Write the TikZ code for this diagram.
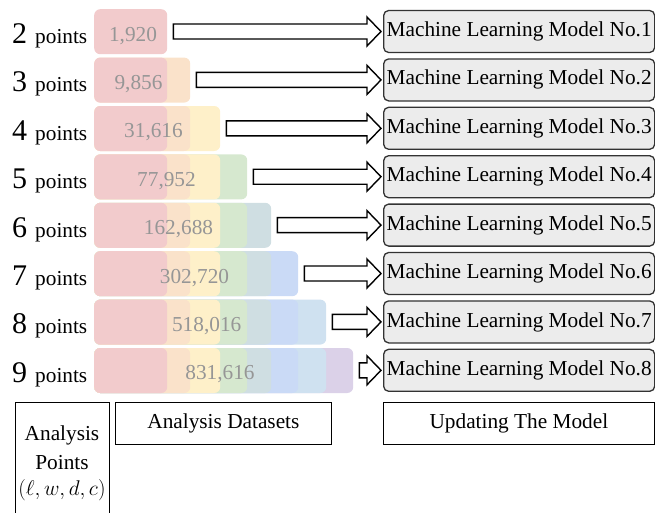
\RequirePackage{fix-cm}
\documentclass[tikz,border=0pt]{standalone}
\usepackage{fontspec}
\setmainfont{Liberation Serif}
\usetikzlibrary{calc}
\definecolor{b1}{RGB}{242,203,204}
\definecolor{b2}{RGB}{250,226,202}
\definecolor{b3}{RGB}{254,240,201}
\definecolor{b4}{RGB}{214,232,207}
\definecolor{b5}{RGB}{207,222,226}
\definecolor{b6}{RGB}{202,218,246}
\definecolor{b7}{RGB}{207,225,240}
\definecolor{b8}{RGB}{219,209,232}
\definecolor{modelfill}{RGB}{236,236,236}
\definecolor{numgray}{RGB}{150,150,150}
\begin{document}
\begin{tikzpicture}[x=1pt,y=-1pt,
  txt/.style={font=\fontsize{21.3}{25}\selectfont, inner sep=0pt},
  barbox/.style={inner sep=0pt, rounded corners=6pt, minimum height=45pt, anchor=north west},
  numlbl/.style={txt, text=numgray, anchor=base},
  rowlbl/.style={txt, anchor=base west},
  modelbox/.style={txt, draw=black!80, line width=1.3pt, fill=modelfill, rounded corners=5pt,
     minimum width=271pt, minimum height=42pt, anchor=west},
  legendbox/.style={txt, draw=black, line width=0.8pt, minimum height=42pt, anchor=north west},
  bigarrow/.style={draw=black, line width=1.4pt, fill=white, line join=miter}]
\useasboundingbox (0,0) rectangle (655,512);
\clip (0,0) rectangle (655,512);
% bars, labels, models, arrows
\foreach \i/\num/\nx in {1/{1,920}/133,2/{9,856}/138.5,3/{31,616}/153.5,4/{77,952}/166.5,
    5/{162,688}/178.5,6/{302,720}/194.5,7/{518,016}/206.7,8/{831,616}/220}{
  \pgfmathsetmacro\rtop{9+48.4*(\i-1)}
  \pgfmathsetmacro\cy{\rtop+22.5}
  \pgfmathtruncatemacro\k{\i+1}
  \foreach \j in {\i,...,1}{
    \pgfmathsetmacro\w{{73,96,126,153,177,204,232,259}[\j-1]}
    \node[barbox, fill=b\j, minimum width=\w pt] (bar\i-\j) at (94,\rtop) {};
  }
  \node[numlbl] (n\i) at (\nx,\cy+9.5) {\num};
  \node[rowlbl] (p\i) at (12,\cy+12) {{\fontsize{30}{30}\selectfont\k}\hspace{8pt}points};
  \node[modelbox] (m\i) at (383,\cy) {Machine Learning Model No.\i};
  \draw[bigarrow] let \p1=(bar\i-\i.east), \p2=(m\i.west) in
    (\x1+6pt,\y2+7.5pt) -- (\x2-16pt,\y2+7.5pt) -- (\x2-16pt,\y2+14.5pt) -- (\x2-2pt,\y2)
    -- (\x2-16pt,\y2-14.5pt) -- (\x2-16pt,\y2-7.5pt) -- (\x1+6pt,\y2-7.5pt) -- cycle;
}
% legend boxes
\node[draw=black, line width=0.8pt, inner sep=0pt, minimum width=94pt, minimum height=140pt, anchor=north west] (ap) at (15,402) {};
\node[txt, anchor=base] (ap1) at (62,440) {Analysis};
\node[txt, anchor=base] (ap2) at (62,469) {Points};
\node[txt, anchor=base] (ap3) at (62,495) {$(\ell,w,d,c)$};
\node[legendbox, minimum width=216pt] (ad) at (115,402) {Analysis Datasets};
\node[legendbox, minimum width=271pt] (um) at (383,402) {Updating The Model};
\end{tikzpicture}
\end{document}
